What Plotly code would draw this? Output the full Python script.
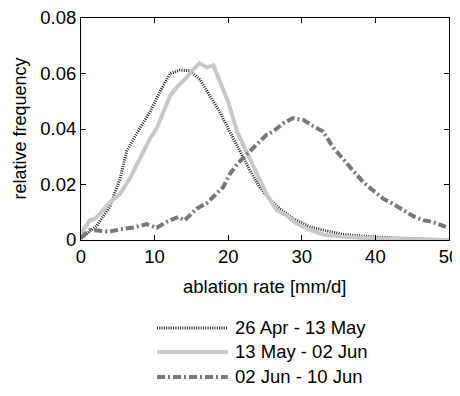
import plotly.graph_objects as go

# 26 Apr - 13 May (dotted black)
x1 = [0, 2.1, 3.9, 5.3, 6.2, 7.6, 9.4, 10.7, 12.1, 13.4, 14.8, 16.2, 17.5, 18.9, 20.2, 21.6, 23.0, 24.3, 25.7, 27.0, 28.8, 31.1, 33.4, 35.6, 40.2, 47.0, 50.0]
y1 = [0.0006, 0.005, 0.012, 0.022, 0.032, 0.0385, 0.0463, 0.0533, 0.060, 0.0612, 0.061, 0.0577, 0.052, 0.046, 0.0391, 0.032, 0.0249, 0.019, 0.0145, 0.0113, 0.0077, 0.0047, 0.0032, 0.002, 0.001, 0.0002, 0.0]

# 13 May - 02 Jun (solid light gray)
x2 = [0, 1.2, 1.9, 2.6, 3.9, 5.3, 6.7, 8.0, 9.4, 10.3, 11.2, 12.1, 13.0, 14.4, 15.3, 16.1, 17.1, 18.0, 18.9, 20.0, 21.2, 22.5, 23.9, 25.2, 26.6, 27.9, 29.3, 31.1, 32.9, 35.6, 40.2, 45.0, 50.0]
y2 = [0.0024, 0.0071, 0.0077, 0.0095, 0.0136, 0.0166, 0.0225, 0.0296, 0.0367, 0.0403, 0.0462, 0.052, 0.055, 0.0587, 0.0616, 0.0637, 0.0622, 0.063, 0.0569, 0.0498, 0.0391, 0.032, 0.0237, 0.0166, 0.0107, 0.0089, 0.0059, 0.0036, 0.002, 0.0012, 0.0005, 0.0002, 0.0]

# 02 Jun - 10 Jun (dash-dot dark gray)
x3 = [0, 1.2, 2.6, 3.9, 5.3, 7.1, 8.9, 10.3, 11.6, 13.2, 14.1, 15.7, 17.1, 18.4, 19.3, 20.2, 21.2, 22.5, 23.9, 25.2, 26.1, 27.5, 28.8, 30.2, 31.6, 32.9, 34.3, 35.6, 37.0, 38.4, 39.7, 41.1, 42.4, 43.8, 45.2, 46.5, 47.8, 49.9]
y3 = [0.0009, 0.0036, 0.0033, 0.003, 0.0038, 0.0045, 0.0057, 0.0044, 0.0065, 0.0083, 0.0071, 0.0113, 0.0133, 0.0166, 0.019, 0.0237, 0.0273, 0.0308, 0.0344, 0.0379, 0.0391, 0.0421, 0.0439, 0.0433, 0.0409, 0.0391, 0.0332, 0.029, 0.0249, 0.0207, 0.0178, 0.0148, 0.013, 0.0107, 0.0085, 0.0071, 0.0065, 0.0044]

names = ["26 Apr - 13 May", "13 May - 02 Jun", "02 Jun - 10 Jun"]
xticks = [0, 10, 20, 30, 40, 50]
yticks = [0, 0.02, 0.04, 0.06, 0.08]
yticklabels = ["0", "0.02", "0.04", "0.06", "0.08"]

styles = [
    dict(color="#222222", width=3, dash="1px,1.3px"),
    dict(color="#c8c8c8", width=4, dash="solid"),
    dict(color="#777777", width=4, dash="8px,3px,2px,3px"),
]

fig = go.Figure()
for xs, ys, nm, st in zip([x1, x2, x3], [y1, y2, y3], names, styles):
    fig.add_trace(go.Scatter(x=xs, y=ys, mode="lines", name=nm, line=st, showlegend=False))

FAM = "Liberation Sans, Arial, sans-serif"
FS = 18.5
font = dict(family=FAM, size=FS, color="black")
axis_common = dict(showgrid=False, zeroline=False, showline=True, linecolor="black", linewidth=1,
                   mirror="ticks", ticks="inside", ticklen=5, tickcolor="black", automargin=False,
                   ticklabeloverflow="allow",
                   tickfont=dict(family=FAM, size=FS, color="black"))

fig.update_layout(
    width=460, height=396,
    margin=dict(l=73, r=19, t=10, b=164),
    paper_bgcolor="white", plot_bgcolor="white",
    font=font,
    xaxis=dict(range=[0, 50], tickvals=xticks, **axis_common),
    yaxis=dict(range=[0, 0.08], tickvals=yticks, ticktext=yticklabels, **axis_common),
)

# axis titles
fig.add_annotation(xref="paper", yref="paper", x=0.5, y=-0.2117, text="ablation rate [mm/d]",
                   showarrow=False, xanchor="center", yanchor="middle", font=dict(size=FS))
fig.add_annotation(xref="paper", yref="paper", x=-0.167, y=0.5, text="relative frequency", textangle=-90,
                   showarrow=False, xanchor="center", yanchor="middle", font=dict(size=18))

# custom legend below plot
rows_y = [-0.396, -0.5045, -0.617]
for nm, st, yy in zip(names, styles, rows_y):
    fig.add_shape(type="line", xref="paper", yref="paper", x0=0.2065, x1=0.399, y0=yy, y1=yy,
                  line=dict(color=st["color"], width=st["width"], dash=st["dash"]))
    fig.add_annotation(xref="paper", yref="paper", x=0.413, y=yy, text=nm, showarrow=False,
                       xanchor="left", yanchor="middle", font=dict(size=FS, color="black"))

fig.write_html("out.html")
